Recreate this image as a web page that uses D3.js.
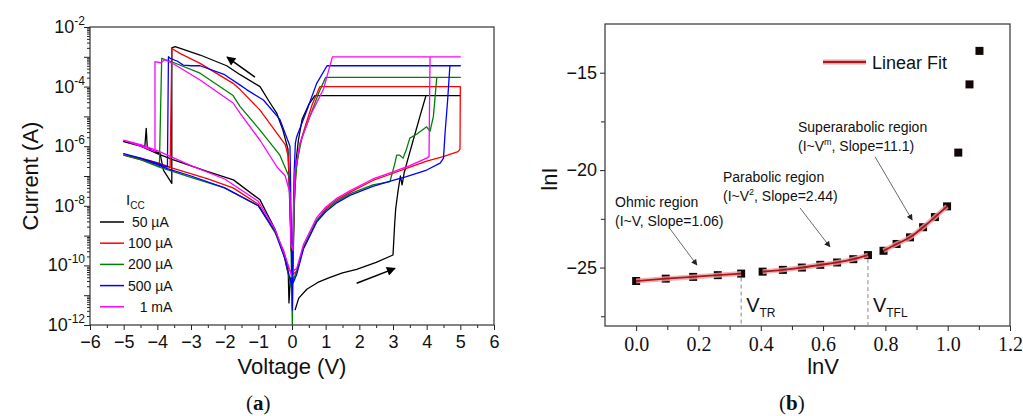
<!DOCTYPE html>
<html>
<head>
<meta charset="utf-8">
<script src="https://cdn.jsdelivr.net/npm/d3@7"></script>
<style>
  body { margin: 0; background: #fff; }
  text { font-family: Arial, "Liberation Sans", sans-serif; fill: #111; }
  .serif { font-family: "Liberation Serif", "Times New Roman", serif; }
</style>
</head>
<body>
<div id="chart"></div>
<script>
// ---------- data, panel (a): I-V loops, [voltage, log10(current)] ----------
const loop50uA = [[0.09,-11.5],[0.2,-11.1],[0.44,-10.8],[0.8,-10.55],[1.13,-10.4],[1.5,-10.25],[1.92,-10.13],[2.5,-9.9],[3.0,-9.65],
  [3.05,-8.6],[3.08,-8.1],[3.15,-7.5],[3.22,-7.0],[3.27,-7.3],[3.33,-6.9],[3.45,-6.4],[3.6,-5.8],[3.8,-5.0],[3.98,-4.3],[5.0,-4.3],
  [0.68,-4.3],[0.5,-4.6],[0.3,-5.1],[0.19,-5.8],[0.12,-6.5],[0.08,-7.5],[0.05,-9],[0.02,-10.3],[-0.05,-8.5],[-0.12,-6.1],[-0.27,-5.46],
  [-0.45,-4.9],[-0.65,-4.55],[-0.95,-4.0],[-1.54,-3.6],[-1.94,-3.3],[-2.73,-2.94],[-3.47,-2.66],[-3.57,-2.7],[-3.57,-7.25],[-3.82,-6.8],
  [-3.92,-6.24],[-4.17,-6.13],[-4.3,-6.02],[-4.33,-5.4],[-4.37,-6.0],[-5.0,-5.85],[-4.5,-6.0],[-4.0,-6.25],[-3.52,-6.46],[-2.5,-6.85],
  [-1.74,-7.13],[-0.95,-7.8],[-0.5,-8.8],[-0.25,-9.6],[-0.11,-10.3],[-0.09,-11.26],[-0.05,-10.5],[0.0,-10.3]];
const loop100uA = [[0.03,-10.3],[0.14,-10.2],[0.34,-9.4],[0.73,-8.5],[1.0,-8.1],[1.33,-7.8],[1.72,-7.55],[2.4,-7.15],[2.9,-6.95],
  [3.5,-6.7],[4.0,-6.5],[4.49,-6.35],[4.93,-6.18],[4.99,-6.1],[5.0,-4.0],[0.83,-4.0],[0.6,-4.6],[0.4,-5.3],[0.24,-5.9],[0.12,-6.8],
  [0.06,-8],[0.03,-9.7],[-0.03,-9.5],[-0.07,-7.5],[-0.11,-6.35],[-0.2,-5.95],[-0.45,-5.56],[-0.95,-4.79],[-1.54,-4.1],[-1.75,-3.89],
  [-2.73,-3.22],[-3.3,-2.9],[-3.57,-2.72],[-3.62,-6.7],[-4.0,-6.55],[-4.5,-6.4],[-5.0,-6.3],[-4.5,-6.45],[-4.0,-6.6],[-3.5,-6.75],
  [-2.5,-7.1],[-1.75,-7.4],[-1.0,-7.95],[-0.5,-8.9],[-0.25,-9.5],[-0.1,-10.1],[0.0,-10.3]];
const loop200uA = [[0.03,-10.5],[0.14,-10.2],[0.34,-9.4],[0.73,-8.5],[1.0,-8.15],[1.33,-7.85],[1.72,-7.6],[2.4,-7.3],[2.91,-7.19],
  [3.05,-6.6],[3.11,-6.3],[3.2,-6.3],[3.3,-6.4],[3.4,-6.1],[3.5,-5.73],[3.7,-5.6],[4.0,-5.35],[4.1,-5.5],[4.2,-5.0],[4.3,-3.69],
  [5.0,-3.69],[1.0,-3.69],[0.8,-4.2],[0.53,-5.0],[0.3,-5.7],[0.15,-6.5],[0.08,-7.5],[0.04,-9],[0.01,-12],[-0.02,-10],[-0.06,-7.1],
  [-0.36,-6.3],[-0.95,-5.46],[-1.54,-4.67],[-1.75,-4.3],[-2.73,-3.55],[-3.5,-3.2],[-3.87,-3.05],[-3.94,-6.69],[-4.5,-6.45],[-5.0,-6.3],
  [-4.5,-6.45],[-3.94,-6.7],[-3.0,-7.05],[-2.0,-7.4],[-1.0,-8.0],[-0.5,-8.9],[-0.2,-9.8],[-0.05,-10.6],[0.0,-10.8]];
const loop500uA = [[0.03,-10.6],[0.14,-10.3],[0.34,-9.45],[0.73,-8.55],[1.0,-8.2],[1.33,-7.9],[1.72,-7.65],[2.4,-7.35],[3.0,-7.15],
  [3.4,-7.02],[4.0,-6.8],[4.4,-6.57],[4.5,-6.4],[4.55,-5.5],[4.62,-4.5],[4.69,-3.3],[5.0,-3.3],[1.04,-3.3],[0.73,-3.9],[0.44,-4.8],
  [0.14,-5.68],[0.1,-5.9],[0.06,-7],[0.03,-9],[0.01,-11.5],[-0.02,-9],[-0.06,-6.0],[-0.36,-5.1],[-0.85,-4.45],[-1.35,-4.1],
  [-1.54,-3.95],[-2.0,-3.6],[-2.73,-3.3],[-3.0,-3.3],[-3.23,-3.28],[-3.4,-3.15],[-3.62,-3.05],[-3.67,-3.0],[-3.7,-6.69],[-4.2,-6.5],
  [-5.0,-6.25],[-4.5,-6.4],[-3.7,-6.75],[-3.0,-7.0],[-2.0,-7.4],[-1.0,-8.0],[-0.5,-8.85],[-0.2,-9.8],[-0.05,-10.5],[0.0,-10.7]];
const loop1mA = [[0.03,-10.2],[0.14,-10.1],[0.34,-9.3],[0.73,-8.4],[1.0,-8.05],[1.33,-7.75],[1.72,-7.5],[2.4,-7.1],[2.9,-6.9],
  [3.5,-6.65],[4.0,-6.4],[4.07,-6.35],[4.1,-3.0],[5.0,-3.0],[1.2,-3.0],[0.93,-4.1],[0.53,-5.0],[0.24,-5.9],[0.09,-6.8],[0.05,-8],
  [0.03,-9.5],[-0.03,-9.3],[-0.06,-7.58],[-0.2,-7.0],[-0.45,-6.69],[-0.95,-5.8],[-1.54,-4.9],[-1.75,-4.55],[-2.73,-3.78],[-3.5,-3.25],
  [-3.77,-3.1],[-3.9,-3.2],[-4.07,-3.16],[-4.07,-6.18],[-4.5,-6.0],[-5.0,-5.8],[-4.5,-5.95],[-4.0,-6.15],[-3.5,-6.4],[-3.0,-6.65],
  [-2.0,-7.1],[-1.0,-7.85],[-0.5,-8.8],[-0.2,-9.7],[-0.05,-10.2],[0.0,-10.4]];

const ccLabels = [" 50 µA", "100 µA", "200 µA", "500 µA", "   1 mA"];
const ccColors = ["#000000", "#ff0000", "#008000", "#0000ff", "#ff00ff"];
const loops = [loop50uA, loop100uA, loop200uA, loop500uA, loop1mA];
const voltTicks = [-6, -5, -4, -3, -2, -1, 0, 1, 2, 3, 4, 5, 6];
const currExp = [-12, -10, -8, -6, -4, -2];

// ---------- data, panel (b): lnI vs lnV ----------
const ohmicX = [0, 0.095, 0.183, 0.262, 0.337];
const ohmicY = [-25.69, -25.57, -25.48, -25.39, -25.31];
const paraX = [0.406, 0.471, 0.532, 0.591, 0.645, 0.697, 0.744];
const paraY = [-25.21, -25.12, -25.0, -24.86, -24.74, -24.57, -24.36];
const superX = [0.794, 0.836, 0.879, 0.921, 0.959, 0.998];
const superY = [-24.14, -23.79, -23.45, -22.93, -22.41, -21.86];
const restX = [1.034, 1.07, 1.102];
const restY = [-19.1, -15.6, -13.88];
const lnVTicks = [0, 0.2, 0.4, 0.6, 0.8, 1.0, 1.2];
const lnITicks = [-15, -20, -25];
const vTR = 0.337, vTFL = 0.744;

const svg = d3.select("#chart").append("svg")
    .attr("width", 1023)
    .attr("height", 416);

const defs = svg.append("defs");
defs.append("marker").attr("id", "headBig")
    .attr("viewBox", "0 0 10 10").attr("refX", 9).attr("refY", 5)
    .attr("markerWidth", 11).attr("markerHeight", 9).attr("markerUnits", "userSpaceOnUse")
    .attr("orient", "auto")
  .append("path").attr("d", "M0,0 L10,5 L0,10 z").attr("fill", "#000");
defs.append("marker").attr("id", "headSmall")
    .attr("viewBox", "0 0 10 10").attr("refX", 9).attr("refY", 5)
    .attr("markerWidth", 7).attr("markerHeight", 6).attr("markerUnits", "userSpaceOnUse")
    .attr("orient", "auto")
  .append("path").attr("d", "M0,0 L10,5 L0,10 z").attr("fill", "#222");

// ================= panel (a) =================
const pa = {left: 90, right: 494, top: 27, bottom: 325};
const xA = d3.scaleLinear().domain([-6, 6]).range([pa.left, pa.right]);
const yA = d3.scaleLog().domain([1e-12, 1e-2]).range([pa.bottom, pa.top]);

const gA = svg.append("g");

// x axis
gA.append("g")
    .attr("transform", "translate(0," + pa.bottom + ")")
    .call(d3.axisBottom(xA).tickValues(voltTicks).tickSize(5).tickPadding(5).tickFormat(d3.format("d")))
    .call(g => g.select(".domain").remove())
    .call(g => g.selectAll("text").attr("font-size", 18).attr("font-family", "Arial, Liberation Sans, sans-serif").attr("fill", "#111"));
gA.append("g")
    .attr("transform", "translate(0," + pa.bottom + ")")
    .call(d3.axisBottom(xA).tickValues(d3.range(-5.5, 6, 1)).tickSize(3).tickFormat(""))
    .call(g => g.select(".domain").remove());

// y axis (log)
const decades = d3.range(-12, -1).map(e => Math.pow(10, e));
const minors = [];
decades.slice(0, -1).forEach(d => { for (let k = 2; k < 10; k++) minors.push(d * k); });
gA.append("g")
    .attr("transform", "translate(" + pa.left + ",0)")
    .call(d3.axisLeft(yA).tickValues(decades).tickSize(6).tickFormat(""))
    .call(g => g.select(".domain").remove());
gA.append("g")
    .attr("transform", "translate(" + pa.left + ",0)")
    .call(d3.axisLeft(yA).tickValues(minors).tickSize(3).tickFormat(""))
    .call(g => g.select(".domain").remove());
const yLab = gA.selectAll(".ylab").data(currExp).enter().append("text")
    .attr("class", "ylab")
    .attr("x", pa.left - 5)
    .attr("y", d => yA(Math.pow(10, d)) + 6)
    .attr("text-anchor", "end")
    .attr("font-size", 18);
yLab.append("tspan").text("10");
yLab.append("tspan").attr("dy", -8).attr("font-size", 12).text(d => d);

gA.selectAll(".tick line").attr("stroke", "#222");

// curves
const lineA = d3.line()
    .x(d => xA(d[0]))
    .y(d => yA(Math.pow(10, d[1])));
gA.selectAll(".loop").data(loops).enter().append("path")
    .attr("class", "loop")
    .attr("d", lineA)
    .attr("fill", "none")
    .attr("stroke", (d, i) => ccColors[i])
    .attr("stroke-width", 1.3)
    .attr("stroke-linejoin", "round");

// frame
gA.append("rect")
    .attr("x", pa.left).attr("y", pa.top)
    .attr("width", pa.right - pa.left).attr("height", pa.bottom - pa.top)
    .attr("fill", "none").attr("stroke", "#333").attr("stroke-width", 1.2);

// sweep arrows
const sweepArrows = [[[-1.1, -3.68], [-1.93, -3.01]], [[1.92, -10.6], [3.06, -10.1]]];
gA.selectAll(".sweep").data(sweepArrows).enter().append("line")
    .attr("x1", d => xA(d[0][0])).attr("y1", d => yA(Math.pow(10, d[0][1])))
    .attr("x2", d => xA(d[1][0])).attr("y2", d => yA(Math.pow(10, d[1][1])))
    .attr("stroke", "#000").attr("stroke-width", 1.5)
    .attr("marker-end", "url(#headBig)");

// legend
const icc = gA.append("text").attr("x", 126).attr("y", 205).attr("font-size", 15);
icc.append("tspan").text("I");
icc.append("tspan").attr("dy", 4).attr("font-size", 10).text("CC");
const leg = gA.selectAll(".leg").data(ccLabels).enter().append("g")
    .attr("transform", (d, i) => "translate(100," + (222 + i * 21.2) + ")");
leg.append("line").attr("x1", 0).attr("x2", 24)
    .attr("stroke", (d, i) => ccColors[i]).attr("stroke-width", 1.5);
leg.append("text").attr("x", 28).attr("y", 5).attr("font-size", 14)
    .style("white-space", "pre").text(d => d);

gA.append("text")
    .attr("transform", "translate(38," + ((pa.top + pa.bottom) / 2) + ") rotate(-90)")
    .attr("text-anchor", "middle").attr("font-size", 22)
    .text("Current (A)");
gA.append("text")
    .attr("x", xA(0)).attr("y", 374)
    .attr("text-anchor", "middle").attr("font-size", 22)
    .text("Voltage (V)");
const capA = gA.append("text").attr("class", "serif")
    .attr("x", xA(-1)).attr("y", 410).attr("text-anchor", "middle").attr("font-size", 21);
capA.append("tspan").text("(");
capA.append("tspan").attr("font-weight", "bold").text("a");
capA.append("tspan").text(")");

// ================= panel (b) =================
const pb = {left: 605, right: 1010, top: 24, bottom: 326};
const xB = d3.scaleLinear().domain([-0.1, 1.2]).range([pb.left, pb.right]);
const yB = d3.scaleLinear().domain([-28, -12.5]).range([pb.bottom, pb.top]);

const gB = svg.append("g");

gB.append("g")
    .attr("transform", "translate(0," + pb.bottom + ")")
    .call(d3.axisBottom(xB).tickValues(lnVTicks).tickSize(5).tickPadding(6).tickFormat(d3.format(".1f")))
    .call(g => g.select(".domain").remove())
    .call(g => g.selectAll("text").attr("class", "serif").attr("font-size", 20).attr("fill", "#111"));
gB.append("g")
    .attr("transform", "translate(0," + pb.bottom + ")")
    .call(d3.axisBottom(xB).tickValues(d3.range(0.1, 1.2, 0.2)).tickSize(4).tickFormat(""))
    .call(g => g.select(".domain").remove());
gB.append("g")
    .attr("transform", "translate(" + pb.left + ",0)")
    .call(d3.axisLeft(yB).tickValues(lnITicks).tickSize(5).tickPadding(3))
    .call(g => g.select(".domain").remove())
    .call(g => g.selectAll("text").attr("font-size", 18).attr("font-family", "Arial, Liberation Sans, sans-serif").attr("fill", "#111"));
gB.append("g")
    .attr("transform", "translate(" + pb.left + ",0)")
    .call(d3.axisLeft(yB).tickValues([-17.5, -22.5, -27.5]).tickSize(4).tickFormat(""))
    .call(g => g.select(".domain").remove());
gB.selectAll(".tick line").attr("stroke", "#222");

gB.append("rect")
    .attr("x", pb.left).attr("y", pb.top)
    .attr("width", pb.right - pb.left).attr("height", pb.bottom - pb.top)
    .attr("fill", "none").attr("stroke", "#333").attr("stroke-width", 1.2);

// dashed markers for V_TR and V_TFL
const vMarks = [[vTR, ohmicY[ohmicY.length - 1]], [vTFL, paraY[paraY.length - 1]]];
gB.selectAll(".vmark").data(vMarks).enter().append("line")
    .attr("x1", d => xB(d[0])).attr("x2", d => xB(d[0]))
    .attr("y1", d => yB(d[1]) + 4).attr("y2", pb.bottom)
    .attr("stroke", "#888").attr("stroke-width", 1).attr("stroke-dasharray", "4,3");

const zip = (xs, ys) => xs.map((x, i) => [x, ys[i]]);
const ohmic = zip(ohmicX, ohmicY), para = zip(paraX, paraY), sup = zip(superX, superY), rest = zip(restX, restY);

const allPts = ohmic.concat(para, sup, rest);
gB.selectAll(".pt").data(allPts).enter().append("rect")
    .attr("x", d => xB(d[0]) - 4).attr("y", d => yB(d[1]) - 4)
    .attr("width", 8).attr("height", 8)
    .attr("fill", "#120606");

const lineB = d3.line().x(d => xB(d[0])).y(d => yB(d[1])).curve(d3.curveMonotoneX);
const fits = [ohmic, para, sup];
gB.selectAll(".halo").data(fits).enter().append("path")
    .attr("d", lineB).attr("fill", "none")
    .attr("stroke", "#e8a5a5").attr("stroke-width", 5).attr("stroke-opacity", 0.8);
gB.selectAll(".fit").data(fits).enter().append("path")
    .attr("d", lineB).attr("fill", "none")
    .attr("stroke", "#b3121b").attr("stroke-width", 1.8);

// legend
gB.append("line").attr("x1", 823).attr("x2", 866).attr("y1", 62).attr("y2", 62)
    .attr("stroke", "#e8a5a5").attr("stroke-width", 5);
gB.append("line").attr("x1", 823).attr("x2", 866).attr("y1", 62).attr("y2", 62)
    .attr("stroke", "#b3121b").attr("stroke-width", 1.8);
gB.append("text").attr("x", 872).attr("y", 69).attr("font-size", 18).text("Linear Fit");

// region notes
const fs = 14;
function note(x, y, line1, pre, sup, post) {
  gB.append("text").attr("x", x).attr("y", y).attr("font-size", fs).text(line1);
  const t = gB.append("text").attr("x", x).attr("y", y + 19).attr("font-size", fs);
  t.append("tspan").text(pre);
  if (sup) {
    t.append("tspan").attr("dy", -6).attr("font-size", 9).text(sup);
    t.append("tspan").attr("dy", 6).text(post);
  }
}
note(615, 207, "Ohmic region", "(I~V, Slope=1.06)");
note(723, 182, "Parabolic region", "(I~V", "2", ", Slope=2.44)");
note(798, 132, "Superarabolic region", "(I~V", "m", ", Slope=11.1)");

const noteArrows = [[[0.109, -23.02], [0.195, -24.87]], [[0.526, -21.94], [0.622, -23.94]], [[0.767, -19.32], [0.886, -22.56]]];
gB.selectAll(".narrow").data(noteArrows).enter().append("line")
    .attr("x1", d => xB(d[0][0])).attr("y1", d => yB(d[0][1]))
    .attr("x2", d => xB(d[1][0])).attr("y2", d => yB(d[1][1]))
    .attr("stroke", "#444").attr("stroke-width", 0.8)
    .attr("marker-end", "url(#headSmall)");

// V_TR / V_TFL labels
[[vTR, "TR"], [vTFL, "TFL"]].forEach(d => {
  const t = gB.append("text").attr("x", xB(d[0]) + 5).attr("y", 312).attr("font-size", 20);
  t.append("tspan").text("V");
  t.append("tspan").attr("dy", 5).attr("font-size", 12).text(d[1]);
});

gB.append("text")
    .attr("transform", "translate(557," + ((pb.top + pb.bottom) / 2 + 4) + ") rotate(-90)")
    .attr("text-anchor", "middle").attr("font-size", 22)
    .text("lnI");
gB.append("text")
    .attr("x", xB(0.6)).attr("y", 374)
    .attr("text-anchor", "middle").attr("font-size", 22)
    .text("lnV");
const capB = gB.append("text").attr("class", "serif")
    .attr("x", xB(0.5)).attr("y", 410).attr("text-anchor", "middle").attr("font-size", 21);
capB.append("tspan").text("(");
capB.append("tspan").attr("font-weight", "bold").text("b");
capB.append("tspan").text(")");
</script>
</body>
</html>
